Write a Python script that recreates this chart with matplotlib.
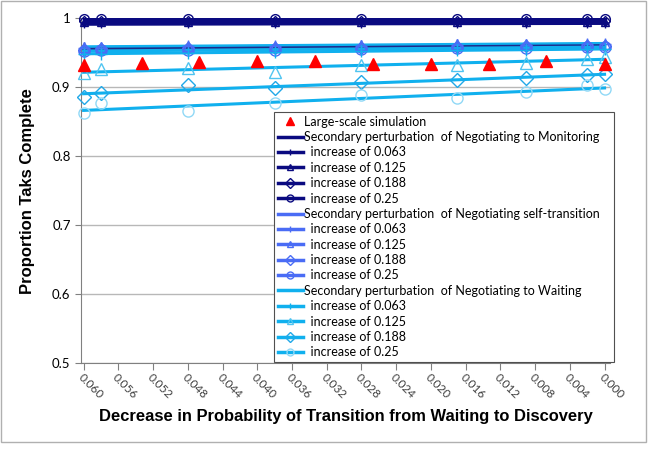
import matplotlib.pyplot as plt
import numpy as np
from matplotlib.lines import Line2D
from matplotlib.patches import Rectangle

# decrease in P(Waiting -> Discovery)
x_sim = [0.0600, 0.0533, 0.0467, 0.0400, 0.0333, 0.0267, 0.0200, 0.0133, 0.0067, 0.0000]
large_scale = [0.932, 0.935, 0.936, 0.937, 0.938, 0.933, 0.934, 0.933, 0.937, 0.933]

x_pert = [0.060, 0.058, 0.048, 0.038, 0.028, 0.017, 0.009, 0.002, 0.000]
increases = ['0.063', '0.125', '0.188', '0.25']

# negotiating -> monitoring
nm_063 = [0.991, 0.991, 0.991, 0.991, 0.992, 0.992, 0.992, 0.992, 0.992]
nm_125 = [0.994, 0.994, 0.994, 0.994, 0.994, 0.994, 0.994, 0.994, 0.994]
nm_188 = [0.996, 0.996, 0.996, 0.996, 0.996, 0.996, 0.996, 0.996, 0.996]
nm_250 = [0.998, 0.998, 0.998, 0.998, 0.998, 0.998, 0.998, 0.998, 0.998]

# negotiating self-transition
ns_063 = [0.957, 0.957, 0.959, 0.959, 0.960, 0.961, 0.961, 0.962, 0.962]
ns_125 = [0.958, 0.958, 0.960, 0.960, 0.961, 0.962, 0.962, 0.963, 0.963]
ns_188 = [0.954, 0.955, 0.956, 0.957, 0.957, 0.958, 0.959, 0.960, 0.960]
ns_250 = [0.952, 0.953, 0.953, 0.954, 0.955, 0.956, 0.957, 0.958, 0.958]

# negotiating -> waiting
nw_063 = [0.948, 0.948, 0.950, 0.951, 0.952, 0.953, 0.954, 0.955, 0.955]
nw_125 = [0.920, 0.926, 0.928, 0.922, 0.932, 0.932, 0.935, 0.941, 0.944]
nw_188 = [0.886, 0.891, 0.903, 0.898, 0.907, 0.910, 0.913, 0.917, 0.919]
nw_250 = [0.862, 0.877, 0.866, 0.877, 0.888, 0.884, 0.893, 0.903, 0.897]

xticks = np.arange(0.060, -0.0001, -0.004)

NAVY, ROYAL, CYAN = '#0A0A80', '#4A6CF5', '#10B0EE'
groups = [
    ('Secondary perturbation  of Negotiating to Monitoring', NAVY,
     [NAVY] * 4, [NAVY] * 4, [6, 6, 5, 7], [nm_063, nm_125, nm_188, nm_250]),
    ('Secondary perturbation  of Negotiating self-transition', ROYAL,
     [CYAN, CYAN, '#1C2A8A', CYAN], [ROYAL] * 4, [8, 7, 6, 8],
     [ns_063, ns_125, ns_188, ns_250]),
    ('Secondary perturbation  of Negotiating to Waiting', CYAN,
     [CYAN] * 4, [CYAN, '#50C4F0', '#20A8E8', '#90D8F6'], [8, 8, 7, 8],
     [nw_063, nw_125, nw_188, nw_250]),
]
markers = ['+', '^', 'D', 'o']

fig = plt.figure(figsize=(6.48, 4.5), dpi=100)
ax = fig.add_axes([0.125, 0.193, 0.816, 0.767])

fig.patches.append(Rectangle((0.002, 0.018), 0.995, 0.98, transform=fig.transFigure,
                             fill=False, edgecolor='#B0B0B0', lw=1))

xp = np.array(x_pert)
ax.plot(x_sim, large_scale, '^', color='red', ms=8.5, ls='none', zorder=6, clip_on=False)
handles = [Line2D([], [], marker='^', color='red', ms=6, ls='none')]
labels = ['Large-scale simulation']

for name, col, linecols, mcols, msizes, series in groups:
    handles.append(Line2D([], [], color=col, lw=2.5))
    labels.append(name)
    for vals, mk, ms, mc, lc, inc in zip(series, markers, msizes, mcols, linecols, increases):
        ax.plot(x_pert, vals, mk, ls='none', mfc='none', mec=mc, ms=ms, mew=1,
                zorder=4, clip_on=False)
        # linear trend of each series
        k, b = np.polyfit(xp, vals, 1)
        ax.plot(xp, k * xp + b, color=lc, lw=2.2, zorder=3)
        handles.append(Line2D([], [], color=col, lw=2.5, marker=mk, mfc='none',
                              mec=mc, ms=5))
        labels.append('  increase of ' + inc)

ax.set_xlim(0.0603, -0.0006)
ax.set_ylim(0.5, 1.0)
ax.set_xticks(xticks)
ax.set_xticklabels(['%.3f' % abs(t) for t in xticks], rotation=-45, ha='left',
                   va='top', rotation_mode='anchor', fontsize=8.5, color='#404040',
                   family='Lato')
ax.set_yticks([0.5, 0.6, 0.7, 0.8, 0.9, 1.0])
ax.set_yticklabels(['0.5', '0.6', '0.7', '0.8', '0.9', '1'], fontsize=9.5, family='Lato')
ax.tick_params(axis='x', length=5, color='#808080', pad=1)
ax.tick_params(axis='y', length=4, color='#808080')
ax.grid(axis='y', color='#B8B8B8', lw=1)
ax.set_axisbelow(True)
for side in ['top', 'right']:
    ax.spines[side].set_visible(False)
for side in ['left', 'bottom']:
    ax.spines[side].set_color('#808080')

ax.set_xlabel('Decrease in Probability of Transition from Waiting to Discovery',
              fontsize=11.9, fontweight='bold', family='Liberation Sans', labelpad=6)
ax.set_ylabel('Proportion Taks Complete', fontsize=12, fontweight='bold',
              family='Liberation Sans', labelpad=12)

leg = ax.legend(handles, labels, loc='lower left', mode='expand',
                bbox_to_anchor=(0.365, 0.003, 0.643, 0.72),
                borderaxespad=0, fancybox=False, framealpha=1, edgecolor='#505050',
                prop={'family': 'Lato', 'size': 9}, handlelength=2.0,
                handletextpad=0.1, labelspacing=0.27, borderpad=0.3)
leg.get_frame().set_linewidth(0.8)
leg.set_zorder(10)

fig.savefig('out.png', dpi=100)
